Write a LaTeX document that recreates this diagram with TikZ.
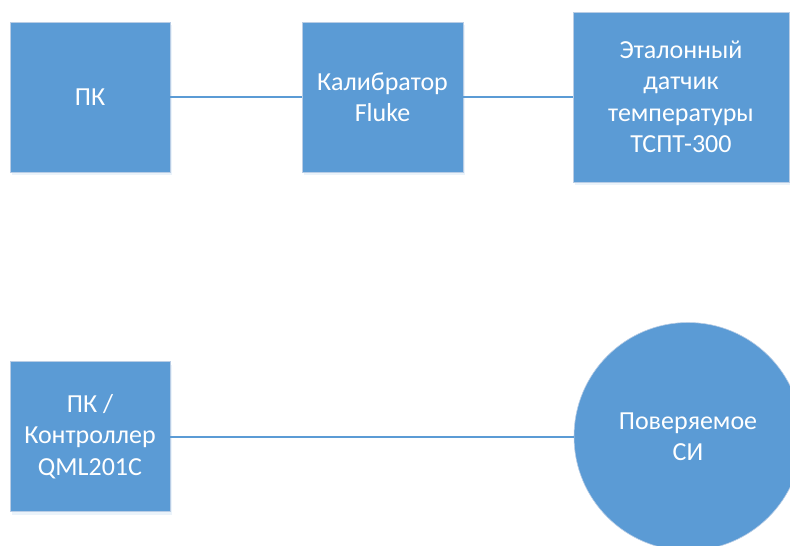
\documentclass[tikz,border=0pt]{standalone}
\usepackage{fontspec}
\setmainfont{Carlito}
\usetikzlibrary{shadows}
\definecolor{boxblue}{HTML}{5B9BD5}
\definecolor{boxedge}{HTML}{B9CDE5}
\begin{document}
\begin{tikzpicture}[x=1pt,y=-1pt,
  blockbox/.style={rectangle, fill=boxblue, draw=boxedge, line width=0.6pt,
    text=white, align=center, inner sep=0pt,
    font=\fontsize{26}{31.5}\selectfont,
    drop shadow={shadow xshift=2pt, shadow yshift=-3pt, opacity=0.12, fill=boxblue}},
  roundbox/.style={circle, fill=boxblue, draw=boxedge, line width=0.6pt,
    text=white, align=center, inner sep=0pt, minimum size=228pt,
    font=\fontsize{26}{31.5}\selectfont},
  link/.style={draw=boxblue, line width=2pt}]
\useasboundingbox (0,0) rectangle (790,546);
\clip (0,0) rectangle (790,546);
\node[blockbox, minimum width=160pt, minimum height=150pt] (pk) at (90,97) {ПК};
\node[blockbox, minimum width=161pt, minimum height=150pt] (cal) at (382.5,97) {Калибратор\\Fluke};
\node[blockbox, minimum width=216pt, minimum height=170pt] (ref) at (681,97) {Эталонный\\датчик\\температуры\\ТСПТ-300};
\node[blockbox, minimum width=160pt, minimum height=150pt] (ctl) at (90,436.5) {ПК /\\Контроллер\\QML201C};
\node[roundbox] (si) at (688,436.5) {Поверяемое\\СИ};
\draw[link] (pk) -- (cal);
\draw[link] (cal) -- (ref);
\draw[link] (ctl) -- (si);
\end{tikzpicture}
\end{document}
